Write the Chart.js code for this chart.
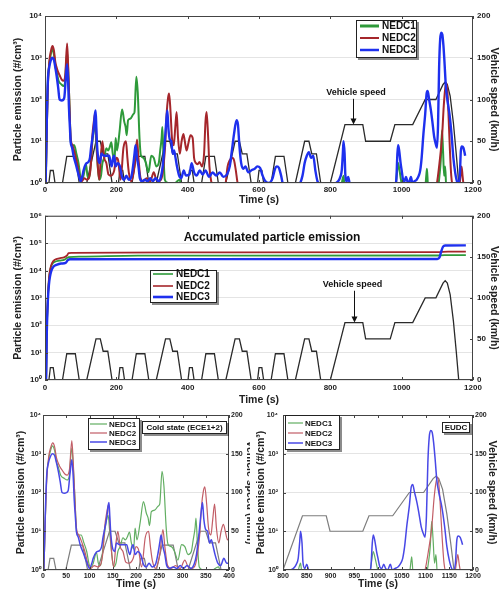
<!DOCTYPE html>
<html>
<head>
<meta charset="utf-8">
<script src="https://cdn.jsdelivr.net/npm/chart.js@4.4.1/dist/chart.umd.min.js"></script>
<style>
  body { margin: 0; background: #fff; width: 500px; height: 590px; overflow: hidden; position: relative; }
  canvas { position: absolute; }
  #c4 { background: #fff; }
</style>
</head>
<body>
<canvas id="c1" width="500" height="207" style="left:0;top:0"></canvas>
<canvas id="c2" width="500" height="200" style="left:0;top:207px"></canvas>
<canvas id="c3" width="256" height="185" style="left:0;top:405px"></canvas>
<canvas id="c4" width="250" height="185" style="left:250px;top:405px"></canvas>
<script>
// ---- data (time in s, particle emission in #/cm3, speed in km/h) ----
const seriesNames = ['NEDC1', 'NEDC2', 'NEDC3'];

const nedc1 = [[0,0.5],[2,1],[5,20],[8,250],[12,700],[17,1300],[20,1600],[25,1200],[29,630],[33,450],[38,280],[46,230],[52,210],[56,250],[62,1400],[66,300],[69,60],[72,10],[76,8],[82,8],[88,5],[94,3],[100,1.3],[104,1.2],[108,1.5],[115,2.8],[119,1.5],[124,1.3],[130,5],[135,15],[140,26],[144,8],[148,2.5],[152,1.2],[157,1.5],[161,3],[166,4],[172,6.8],[177,6],[181,7],[186,9.5],[190,5],[195,3.5],[198,12],[202,6],[209,17],[216,58],[219,45],[222,30],[226,22],[229,14],[233,32],[240,35],[248,45],[251,50],[256,350],[260,150],[265,12],[269,4.5],[276,4],[283,3],[290,1.8],[298,4.5],[305,4],[312,2.5],[319,3],[323,6],[327,12],[329,22],[332,5],[336,1.2],[345,1.0],[352,0.8],[378,1.2],[382,0.8],[830,0.8],[834,1.2],[837,1.5],[840,0.8],[982,0.8],[986,1.5],[990,3],[994,2],[998,1.2],[1002,0.8],[1066,0.8],[1069,1.5],[1071,2.2],[1074,0.8],[1102,0.8],[1106,1.5],[1110,4],[1113,18],[1116,6],[1119,1.5],[1122,2.5],[1125,0.8],[1180,0.8]];

const nedc2 = [[0,0.5],[2,1],[5,20],[8,200],[12,800],[17,1500],[21,1900],[25,1500],[29,780],[35,500],[41,380],[47,300],[52,280],[57,400],[62,2200],[65,600],[68,100],[72,12],[77,8],[83,5.4],[90,3],[97,1.4],[103,1.1],[110,1.3],[118,1.2],[125,1.5],[129,3],[133,14],[137,30],[141,48],[145,8],[148,2.5],[152,1.2],[157,5],[161,10],[166,4],[172,3],[178,1.6],[185,1.5],[194,2],[200,4],[205,3.5],[212,1.2],[220,7],[227,10],[231,4],[235,1.8],[242,1.1],[251,2.5],[258,11],[262,4],[268,1.3],[275,1.1],[285,1.3],[295,1.1],[305,1.8],[312,1.2],[320,1.1],[328,1.4],[333,3],[337,8],[341,45],[345,110],[348,140],[352,50],[356,12],[361,8],[365,20],[369,50],[373,12],[378,5],[383,10],[388,15],[392,10],[397,6],[402,9],[408,14],[414,12],[418,4],[423,3],[428,2.8],[433,3.2],[440,2.5],[446,5],[450,30],[453,50],[457,15],[461,2.5],[466,1.1],[475,0.8],[505,0.9],[512,2.5],[518,3.5],[524,4],[530,3.5],[535,2],[540,1],[548,0.8],[1095,0.8],[1099,1.0],[1106,3],[1113,12],[1118,70],[1122,180],[1125,250],[1128,170],[1131,50],[1135,7],[1139,1.5],[1145,0.8],[1162,0.9],[1165,1.5],[1168,2.5],[1171,1.4],[1175,0.8],[1180,0.8]];

const nedc3 = [[0,0.5],[2,1.3],[5,30],[8,280],[12,600],[16,850],[20,1000],[25,900],[29,580],[33,350],[37,190],[41,100],[47,95],[54,110],[58,300],[62,700],[65,250],[67,70],[70,20],[72,9.5],[76,7],[80,4.5],[87,2.7],[94,1.6],[100,1.1],[105,1.5],[108,2],[115,2.9],[122,3.2],[126,4],[129,6.8],[133,12],[137,22],[140,45],[142,55],[144,20],[146,8],[150,3.5],[154,3],[158,5],[165,4.5],[172,4.5],[180,4.5],[184,3],[187,2.5],[191,4],[194,4.5],[198,2.5],[204,3],[210,2.5],[216,1.4],[222,1.2],[228,1.5],[235,1.2],[242,1.4],[248,3],[251,5],[254,8],[258,4],[262,2.5],[266,1.3],[272,1.1],[280,1.2],[288,1.1],[295,1.3],[302,1.1],[310,1.3],[318,1.1],[325,1.4],[330,2.5],[336,10],[340,30],[343,55],[346,20],[350,11],[354,10],[358,5],[362,6],[366,4],[370,2.5],[376,1.5],[382,1.3],[389,2],[395,1.5],[405,1.6],[411,3],[418,1.8],[425,1.5],[434,2],[442,1.6],[450,2],[460,1.4],[470,1.8],[480,1.5],[490,1.8],[500,1.4],[510,1.6],[518,2.5],[524,6],[530,15],[537,32],[541,25],[545,8],[550,3],[556,2.2],[562,2.5],[570,1.8],[578,2],[588,2.2],[595,2.5],[603,2.3],[610,1.5],[618,1.1],[628,1.0],[638,1.3],[645,2.2],[650,2.5],[656,2.3],[662,1.5],[668,0.9],[690,0.8],[712,0.9],[722,1.5],[728,3],[734,4.5],[740,5.5],[746,4],[752,4.5],[758,2],[764,1.1],[775,0.9],[800,0.9],[815,1.0],[822,1.1],[828,1.4],[832,2],[835,5],[837,10],[840,5],[842,1.6],[846,1.1],[850,1.4],[854,1.0],[860,0.8],[980,0.8],[985,1.2],[988,5],[990,8],[993,6],[997,3],[1000,2],[1004,1.2],[1008,1.1],[1012,1.4],[1016,1.1],[1020,1.0],[1026,1.4],[1030,1.0],[1036,1.1],[1042,1.2],[1048,1.5],[1052,2],[1056,4],[1061,15],[1066,45],[1070,140],[1073,160],[1077,100],[1082,55],[1086,30],[1091,13],[1095,9],[1099,7],[1102,25],[1105,600],[1108,2800],[1111,4000],[1114,3600],[1117,2000],[1120,800],[1124,200],[1128,100],[1134,45],[1140,14],[1145,4],[1150,1.8],[1155,1.1],[1159,1.0],[1163,1.5],[1166,6],[1169,7.5],[1173,7],[1176,5.5],[1178,4.5]];

// accumulated emission
const acc1 = [[0,0.5],[3,1],[5,50],[8,900],[11,4500],[15,11000],[20,17000],[28,21000],[40,23000],[55,25000],[62,29000],[66,31000],[100,32000],[260,35000],[1100,35500],[1120,36500],[1180,36500]];
const acc2 = [[0,0.5],[3,1],[5,60],[8,1000],[11,5000],[15,12000],[20,19000],[28,25000],[40,28000],[55,31000],[62,36000],[66,43000],[75,44000],[350,46000],[1100,47000],[1130,49000],[1180,49000]];
const acc3 = [[0,0.5],[3,1],[5,50],[8,800],[11,3000],[14,6000],[18,10000],[24,14000],[32,16000],[45,18000],[58,19000],[64,24000],[70,26000],[1100,26500],[1106,30000],[1110,45000],[1116,75000],[1122,82000],[1180,83000]];

// vehicle speed (NEDC: 4 x ECE + EUDC)
const speedProfile = [
  [0,0],[11,0],[15,15],[23,15],[28,0],[49,0],[61,32],[85,32],[96,0],[117,0],[143,50],[155,50],[163,35],[176,35],[188,0],[195,0],
  [206,0],[210,15],[218,15],[223,0],[244,0],[256,32],[280,32],[291,0],[312,0],[338,50],[350,50],[358,35],[371,35],[383,0],[390,0],
  [401,0],[405,15],[413,15],[418,0],[439,0],[451,32],[475,32],[486,0],[507,0],[533,50],[545,50],[553,35],[566,35],[578,0],[585,0],
  [596,0],[600,15],[608,15],[613,0],[634,0],[646,32],[670,32],[681,0],[702,0],[728,50],[740,50],[748,35],[761,35],[773,0],[780,0],
  [800,0],[841,70],[891,70],[899,50],[968,50],[981,70],[1031,70],[1066,100],[1096,100],[1116,118],[1122,121],[1128,118],[1136,104],[1145,72],[1153,35],[1160,0],[1180,0]
];

const SUP = ['\u2070','\u00B9','\u00B2','\u00B3','\u2074','\u2075','\u2076'];
const FAMILY = '"Liberation Sans", Arial, sans-serif';
const bold = s => ({ family: FAMILY, size: s, weight: 'bold' });
const fontStr = s => 'bold ' + s + 'px ' + FAMILY;

const strong = { colors: ['#2e9a3a', '#a5262b', '#1e30ee'], speed: '#2a2a2a' };
const light = { colors: ['#62ae62', '#c25d66', '#4848e6'], speed: '#7d7d7d' };

function drawBox(ctx, x, y, w, h) {
  ctx.fillStyle = 'rgba(0,0,0,0.45)';
  ctx.fillRect(x + 2, y + 2, w, h);
  ctx.fillStyle = '#fff';
  ctx.fillRect(x, y, w, h);
  ctx.strokeStyle = '#222';
  ctx.lineWidth = 1;
  ctx.strokeRect(x + 0.5, y + 0.5, w - 1, h - 1);
}

function deco(o) {
  return {
    id: 'deco',
    afterDatasetsDraw(chart) {
      const { ctx, chartArea: a, scales } = chart;
      ctx.save();
      ctx.strokeStyle = '#444';
      ctx.lineWidth = 1;
      ctx.beginPath();
      scales.x.ticks.forEach(t => {
        const px = Math.round(scales.x.getPixelForValue(t.value)) + 0.5;
        ctx.moveTo(px, a.bottom); ctx.lineTo(px, a.bottom - 3);
        ctx.moveTo(px, a.top); ctx.lineTo(px, a.top + 3);
      });
      scales.y.ticks.forEach(t => {
        const py = Math.round(scales.y.getPixelForValue(t.value)) + 0.5;
        ctx.moveTo(a.left, py); ctx.lineTo(a.left + 3, py);
      });
      scales.y1.ticks.forEach(t => {
        const py = Math.round(scales.y1.getPixelForValue(t.value)) + 0.5;
        ctx.moveTo(a.right, py); ctx.lineTo(a.right - 3, py);
      });
      ctx.stroke();
      ctx.strokeRect(a.left + 0.5, a.top + 0.5, a.right - a.left - 1, a.bottom - a.top - 1);
      ctx.restore();
    },
    afterDraw(chart) {
      const { ctx, scales } = chart;
      ctx.save();
      if (o.legend) {
        const L = o.legend;
        drawBox(ctx, L.x, L.y, L.w, L.h);
        ctx.font = fontStr(L.font);
        ctx.textAlign = 'left';
        ctx.textBaseline = 'middle';
        seriesNames.forEach((name, i) => {
          const y = L.rows[i];
          ctx.strokeStyle = o.palette.colors[i];
          ctx.lineWidth = L.lineWidths[i];
          ctx.beginPath(); ctx.moveTo(L.x0, y); ctx.lineTo(L.x1, y); ctx.stroke();
          ctx.fillStyle = '#111';
          ctx.fillText(name, L.tx, y + 0.5);
        });
      }
      if (o.tag) {
        const T = o.tag;
        drawBox(ctx, T.x, T.y, T.w, T.h);
        ctx.font = fontStr(T.font);
        ctx.fillStyle = '#111';
        ctx.textAlign = 'center';
        ctx.textBaseline = 'middle';
        ctx.fillText(T.text, T.x + T.w / 2, T.y + T.h / 2 + 0.5);
      }
      if (o.note) {
        const N = o.note;
        const ax = Math.round(scales.x.getPixelForValue(N.arrowT)) + 0.5;
        const ty = scales.y1.getPixelForValue(N.textSpeed);
        const tip = scales.y1.getPixelForValue(N.tipSpeed);
        ctx.font = fontStr(N.font);
        ctx.fillStyle = '#111';
        ctx.textAlign = 'center';
        ctx.textBaseline = 'middle';
        ctx.fillText(N.text, scales.x.getPixelForValue(N.textT), ty);
        ctx.strokeStyle = '#111';
        ctx.lineWidth = 1;
        ctx.beginPath(); ctx.moveTo(ax, ty + 6); ctx.lineTo(ax, tip - 3); ctx.stroke();
        ctx.beginPath(); ctx.moveTo(ax - 3, tip - 6); ctx.lineTo(ax + 3, tip - 6); ctx.lineTo(ax, tip); ctx.closePath(); ctx.fill();
      }
      if (o.title) {
        ctx.font = fontStr(o.title.font);
        ctx.fillStyle = '#111';
        ctx.textAlign = 'center';
        ctx.textBaseline = 'middle';
        ctx.fillText(o.title.text, o.title.x, o.title.y);
      }
      ctx.restore();
    }
  };
}

function panel(id, o) {
  const ds = [];
  for (let i = seriesNames.length - 1; i >= 0; i--) {
    ds.push({
      label: seriesNames[i],
      data: o.emission[i].map(p => ({ x: p[0], y: p[1] })),
      borderColor: o.palette.colors[i],
      borderWidth: o.widths[i],
      pointRadius: 0,
      cubicInterpolationMode: 'monotone',
      yAxisID: 'y'
    });
  }
  ds.push({
    label: 'Vehicle speed',
    data: speedProfile.map(p => ({ x: p[0], y: p[1] })),
    borderColor: o.palette.speed,
    borderWidth: o.speedWidth,
    pointRadius: 0,
    tension: 0,
    yAxisID: 'y1'
  });

  return new Chart(document.getElementById(id), {
    type: 'line',
    data: { datasets: ds },
    options: {
      responsive: false,
      animation: false,
      events: [],
      layout: { padding: { top: o.padTop, left: 0, right: 0, bottom: 0 } },
      plugins: { legend: { display: false }, tooltip: { enabled: false } },
      scales: {
        x: {
          type: 'linear', min: o.xMin, max: o.xMax,
          afterFit: s => { s.height = o.xH; },
          ticks: { stepSize: o.xStep, autoSkip: false, maxRotation: 0, padding: o.xTickPad,
                   font: bold(o.tickFont), color: '#222', callback: v => String(v) },
          grid: { display: false, drawTicks: false },
          border: { display: false },
          title: { display: true, text: 'Time (s)', font: bold(10.5), color: '#222',
                   padding: { top: 0, bottom: o.xTitlePad } }
        },
        y: {
          type: 'logarithmic', position: 'left', min: 1, max: Math.pow(10, o.yExp),
          afterBuildTicks: s => {
            s.ticks = [];
            for (let e = 0; e <= o.yExp; e++) s.ticks.push({ value: Math.pow(10, e) });
          },
          afterFit: s => { s.width = o.leftW; },
          ticks: { font: bold(o.tickFont), color: '#222', padding: o.yTickPad,
                   callback: v => '10' + SUP[Math.round(Math.log10(v))] },
          grid: { color: '#e4e4e4', drawTicks: false },
          border: { display: false },
          title: { display: true, text: 'Particle emission (#/cm\u00B3)', font: bold(10.5), color: '#222',
                   padding: { top: o.leftTitlePad, bottom: 0 } }
        },
        y1: {
          type: 'linear', position: 'right', min: 0, max: 200,
          afterFit: s => { s.width = o.rightW; },
          ticks: { stepSize: 50, font: bold(o.tickFont), color: '#222', padding: o.y1TickPad },
          grid: { drawOnChartArea: false, drawTicks: false },
          border: { display: false },
          title: { display: true, text: 'Vehicle speed (km/h)', font: bold(10.5), color: '#222',
                   padding: { top: o.rightTitlePad, bottom: 0 } }
        }
      }
    },
    plugins: [deco(o)]
  });
}

panel('c1', {
  emission: [nedc1, nedc2, nedc3], palette: strong, widths: [2, 2, 2.4], speedWidth: 1.3,
  xMin: 0, xMax: 1200, xStep: 200, yExp: 4,
  padTop: 16, leftW: 45, rightW: 27, xH: 24,
  leftTitlePad: 12, rightTitlePad: 0, xTitlePad: 1,
  tickFont: 8, xTickPad: 2, yTickPad: 3, y1TickPad: 4,
  legend: { x: 356, y: 20, w: 61, h: 38, x0: 360, x1: 379, tx: 382, rows: [26, 38, 50], font: 10, lineWidths: [3, 2, 2.5] },
  note: { text: 'Vehicle speed', textT: 872, arrowT: 863, textSpeed: 108, tipSpeed: 70, font: 9 }
});

panel('c2', {
  emission: [acc1, acc2, acc3], palette: strong, widths: [1.8, 1.8, 2.4], speedWidth: 1.3,
  xMin: 0, xMax: 1200, xStep: 200, yExp: 6,
  padTop: 7, leftW: 45, rightW: 27, xH: 27,
  leftTitlePad: 12, rightTitlePad: 0, xTitlePad: 1,
  tickFont: 8, xTickPad: 3, yTickPad: 3, y1TickPad: 4,
  legend: { x: 150, y: 63, w: 67, h: 33, x0: 153, x1: 173, tx: 176, rows: [67, 79, 90], font: 10, lineWidths: [1.6, 1.6, 2.6] },
  note: { text: 'Vehicle speed', textT: 862, arrowT: 865, textSpeed: 116, tipSpeed: 70, font: 9 },
  title: { text: 'Accumulated particle emission', x: 272, y: 31, font: 12 }
});

panel('c3', {
  emission: [nedc1, nedc2, nedc3], palette: light, widths: [1.2, 1.2, 1.5], speedWidth: 1.2,
  xMin: 0, xMax: 400, xStep: 50, yExp: 4,
  padTop: 10, leftW: 43, rightW: 27, xH: 20,
  leftTitlePad: 15, rightTitlePad: 0, xTitlePad: 0,
  tickFont: 7, xTickPad: 2, yTickPad: 2, y1TickPad: 2,
  legend: { x: 88, y: 13, w: 52, h: 32, x0: 90, x1: 107, tx: 109, rows: [19, 28, 37], font: 8, lineWidths: [1.2, 1.2, 1.5] },
  tag: { text: 'Cold state (ECE1+2)', x: 142, y: 16, w: 85, h: 13, font: 8 }
});

panel('c4', {
  emission: [nedc1, nedc2, nedc3], palette: light, widths: [1.2, 1.2, 1.5], speedWidth: 1.2,
  xMin: 800, xMax: 1200, xStep: 50, yExp: 4,
  padTop: 10, leftW: 33, rightW: 27, xH: 20,
  leftTitlePad: 5, rightTitlePad: 2, xTitlePad: 0,
  tickFont: 7, xTickPad: 2, yTickPad: 5, y1TickPad: 2,
  legend: { x: 35, y: 10, w: 55, h: 35, x0: 38, x1: 53, tx: 55, rows: [18, 28, 38], font: 8, lineWidths: [1.2, 1.2, 1.5] },
  tag: { text: 'EUDC', x: 192, y: 17, w: 28, h: 11, font: 8 }
});
</script>
</body>
</html>
